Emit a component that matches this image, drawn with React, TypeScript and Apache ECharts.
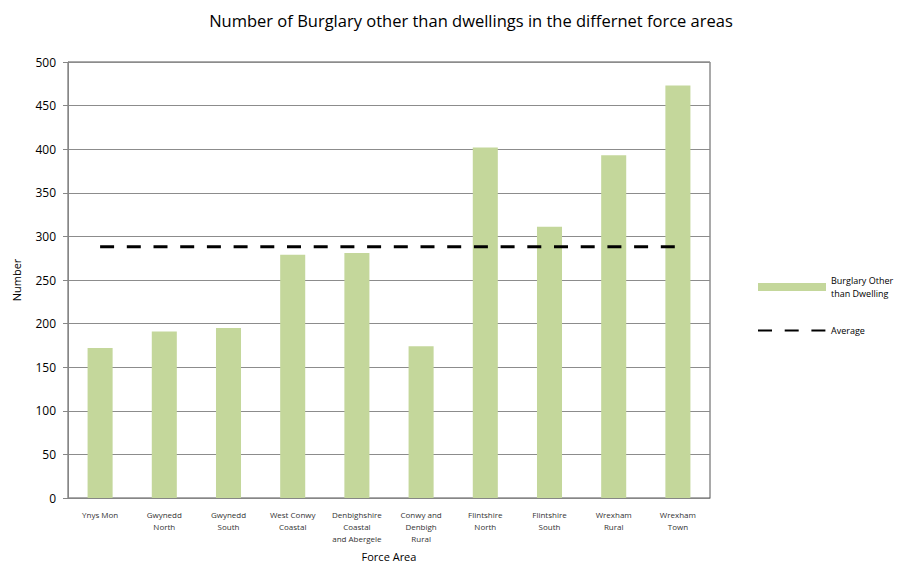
import React, { useEffect, useRef } from "react";
import * as echarts from "echarts";

const categories = [
  "Ynys Mon",
  "Gwynedd\nNorth",
  "Gwynedd\nSouth",
  "West Conwy\nCoastal",
  "Denbighshire\nCoastal\nand Abergele",
  "Conwy and\nDenbigh\nRural",
  "Flintshire\nNorth",
  "Flintshire\nSouth",
  "Wrexham\nRural",
  "Wrexham\nTown",
];
const burglaryValues = [172, 191, 195, 279, 281, 174, 402, 311, 393, 473];
const averageValues = [288, 288, 288, 288, 288, 288, 288, 288, 288, 288];
const yTicks = { min: 0, max: 500, interval: 50 };

export default function App() {
  const ref = useRef<HTMLDivElement>(null);
  useEffect(() => {
    if (!ref.current) return;
    const chart = echarts.init(ref.current, null, { renderer: "svg" });
    chart.setOption({
      animation: false,
      backgroundColor: "#ffffff",
      textStyle: { fontFamily: "Open Sans" },
      title: {
        text: "Number of Burglary other than dwellings in the differnet force areas",
        left: 466,
        textAlign: "center",
        top: 7,
        textStyle: { fontFamily: "Open Sans", fontSize: 16.5, fontWeight: "normal", color: "#000" },
      },
      grid: {
        left: 68,
        right: 199,
        top: 62,
        bottom: 67,
        outerBoundsMode: "none",
        containLabel: false,
        show: true,
        borderColor: "#555555",
        borderWidth: 1,
      },
      legend: {
        orient: "vertical",
        left: 752,
        top: 269,
        itemWidth: 68,
        itemHeight: 8,
        itemGap: 24,
        textStyle: { fontFamily: "Open Sans", fontSize: 9, color: "#000", lineHeight: 13 },
        data: [
          { name: "Burglary Other\nthan Dwelling", icon: "rect" },
          {
            name: "Average",
            itemStyle: { opacity: 0, color: "rgba(0,0,0,0)", borderWidth: 0 },
          },
        ],
      },
      xAxis: {
        type: "category",
        data: categories,
        name: "Force Area",
        nameLocation: "middle",
        nameGap: 53,
        nameTextStyle: { fontFamily: "Open Sans", fontSize: 11, color: "#000" },
        axisLine: { lineStyle: { color: "#868686" } },
        axisTick: { show: false },
        axisLabel: {
          interval: 0,
          fontSize: 8,
          lineHeight: 12,
          color: "#333",
          margin: 10,
          fontFamily: "Open Sans",
        },
      },
      yAxis: {
        type: "value",
        min: yTicks.min,
        max: yTicks.max,
        interval: yTicks.interval,
        name: "Number",
        nameLocation: "middle",
        nameGap: 46,
        nameTextStyle: { fontFamily: "Open Sans", fontSize: 11, color: "#000" },
        axisLine: { show: true, lineStyle: { color: "#868686" } },
        axisTick: { show: true, length: 5, lineStyle: { color: "#868686" } },
        axisLabel: { fontSize: 12, color: "#000", margin: 12, fontFamily: "Open Sans" },
        splitLine: { lineStyle: { color: "#8c8c8c" } },
      },
      series: [
        {
          name: "Burglary Other\nthan Dwelling",
          type: "bar",
          data: burglaryValues,
          barWidth: "39%",
          itemStyle: { color: "#c4d79b" },
        },
        {
          name: "Average",
          type: "line",
          data: averageValues,
          symbol: "none",
          lineStyle: { color: "#000", width: 3, type: [14, 12.7] },
          itemStyle: { color: "#000" },
          z: 5,
        },
      ],
    });
    return () => chart.dispose();
  }, []);
  return (
    <div
      ref={ref}
      style={{ position: "absolute", left: 0, top: 0, width: 909, height: 565 }}
    />
  );
}
